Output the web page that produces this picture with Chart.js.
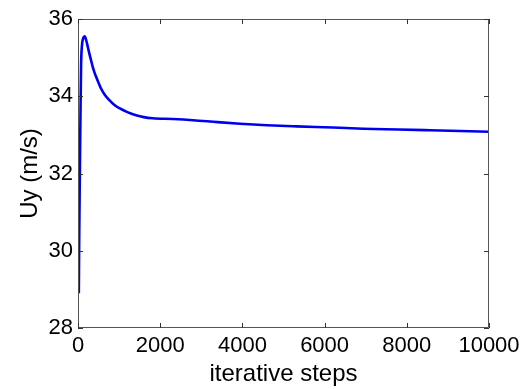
<!DOCTYPE html>
<html>
<head>
<meta charset="utf-8">
<script src="https://cdn.jsdelivr.net/npm/chart.js@4"></script>
<style>
html,body{margin:0;padding:0;background:#fff;}
#wrap{width:522px;height:389px;position:relative;}
</style>
</head>
<body>
<div id="wrap"><canvas id="c" width="522" height="389"></canvas></div>
<script>
const steps = [20, 30, 45, 60, 75, 95, 125, 163, 200, 240, 275, 320, 358, 400, 438, 500, 560, 650, 763, 880, 1006, 1200, 1411, 1600, 1817, 2303, 2800, 3400, 3942, 4600, 5321, 6200, 6942, 7800, 8564, 9300, 10000];
const uy = [28.9, 30.4, 32.0, 33.5, 34.8, 35.3, 35.5, 35.55, 35.45, 35.27, 35.11, 34.92, 34.76, 34.62, 34.51, 34.35, 34.20, 34.04, 33.90, 33.78, 33.69, 33.59, 33.51, 33.46, 33.43, 33.41, 33.38, 33.33, 33.29, 33.25, 33.22, 33.19, 33.16, 33.14, 33.12, 33.10, 33.08];
const xTicks = [0, 2000, 4000, 6000, 8000, 10000];
const yTicks = [28, 30, 32, 34, 36];
const xTitle = 'iterative steps';
const yTitle = 'Uy (m/s)';

const FONT = '"Liberation Sans", Arial, sans-serif';

const boxPlugin = {
  id: 'boxTicks',
  afterDatasetsDraw(chart) {
    const {ctx, chartArea: a, scales: {x, y}} = chart;
    ctx.save();
    ctx.strokeStyle = '#555';
    ctx.lineWidth = 1;
    ctx.beginPath();
    ctx.rect(a.left + 0.5, a.top + 0.5, a.right - a.left - 1, a.bottom - a.top - 1);
    ctx.stroke();
    ctx.strokeStyle = '#333';
    ctx.beginPath();
    const L = 5;
    xTicks.forEach(v => {
      const px = Math.round(x.getPixelForValue(v)) + 0.5;
      ctx.moveTo(px, a.bottom); ctx.lineTo(px, a.bottom - L);
      ctx.moveTo(px, a.top); ctx.lineTo(px, a.top + L);
    });
    yTicks.forEach(v => {
      const py = Math.round(y.getPixelForValue(v)) + 0.5;
      ctx.moveTo(a.left, py); ctx.lineTo(a.left + L, py);
      ctx.moveTo(a.right, py); ctx.lineTo(a.right - L, py);
    });
    ctx.stroke();
    ctx.restore();
  }
};

new Chart(document.getElementById('c'), {
  type: 'line',
  data: {
    datasets: [{
      data: steps.map((s, i) => ({x: s, y: uy[i]})),
      borderColor: '#0000f0',
      borderWidth: 2.6,
      pointRadius: 0,
      fill: false,
      cubicInterpolationMode: 'monotone'
    }]
  },
  options: {
    responsive: false,
    animation: false,
    devicePixelRatio: 1,
    layout: {padding: {left: 0, right: 33, top: 19, bottom: 0}},
    plugins: {legend: {display: false}, tooltip: {enabled: false}},
    scales: {
      x: {
        type: 'linear', min: 0, max: 10000,
        afterBuildTicks(s) { s.ticks = xTicks.map(v => ({value: v})); },
        afterFit(s) { s.height = 61; s.paddingRight = 0; s.paddingLeft = 0; },
        grid: {display: false, drawTicks: false},
        border: {display: false},
        ticks: {color: '#000', font: {family: FONT, size: 22}, padding: 5, maxRotation: 0, autoSkip: false,
          callback: v => String(v)},
        title: {display: true, text: xTitle, color: '#000', font: {family: FONT, size: 24}, padding: {top: -4, bottom: 0}}
      },
      y: {
        type: 'linear', min: 28, max: 36,
        afterBuildTicks(s) { s.ticks = yTicks.map(v => ({value: v})); },
        afterFit(s) { s.width = 78; },
        grid: {display: false, drawTicks: false},
        border: {display: false},
        ticks: {color: '#000', font: {family: FONT, size: 22}, padding: 5, callback: v => String(v)},
        title: {display: true, text: yTitle, color: '#000', font: {family: FONT, size: 24}, padding: {top: 16, bottom: 0}}
      }
    }
  },
  plugins: [boxPlugin]
});
</script>
</body>
</html>
